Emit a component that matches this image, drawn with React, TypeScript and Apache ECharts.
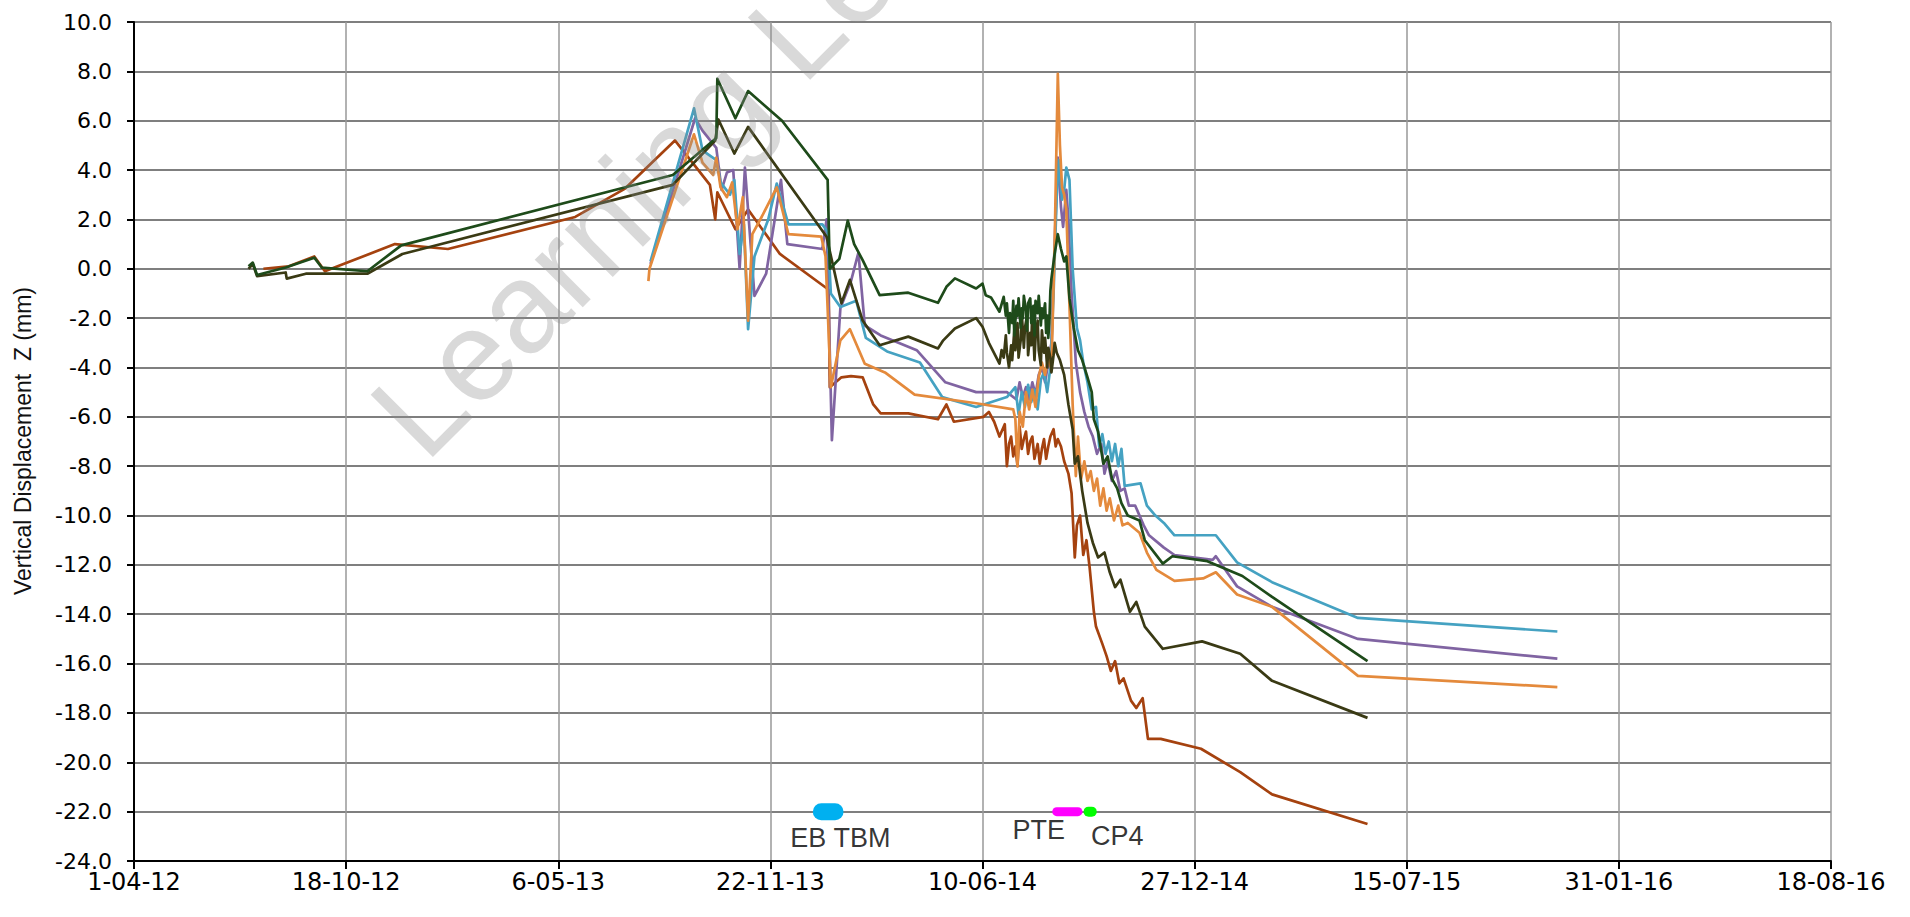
import React, { useEffect, useRef } from 'react';
import * as echarts from 'echarts';

type Pt = [string, number];

// ---- axis definition ----
const X_START = '2012-04-01';
const X_TICK_DAYS = 200;
const X_TICK_COUNT = 8;
const Y_MIN = -24;
const Y_MAX = 10;
const Y_STEP = 2;

const Y_TITLE = 'Vertical Displacement  Z (mm)';
const WATERMARK = 'Learning Legacy';

// ---- monitoring series ----
const seriesNames = ['Brown', 'Purple', 'Teal', 'Orange', 'Olive', 'Dark green'];
const seriesColors = ['#a5420f', '#8064a2', '#45a2c2', '#e48a3c', '#3a3a14', '#1e4b1a'];

const brown: Pt[] = [
  ['2012-08-01', 0.0], ['2012-08-25', 0.1], ['2012-09-18', 0.5], ['2012-09-28', -0.1], ['2012-10-10', 0.1],
  ['2012-12-03', 1.0], ['2013-01-22', 0.8], ['2013-05-22', 2.1], ['2013-07-08', 3.25], ['2013-08-24', 5.2],
  ['2013-09-26', 3.4], ['2013-10-01', 2.0], ['2013-10-03', 3.1], ['2013-10-20', 1.6], ['2013-11-01', 2.4],
  ['2013-12-01', 0.6], ['2014-01-16', -0.85], ['2014-01-17', -4.8], ['2014-01-28', -4.4], ['2014-02-06', -4.35],
  ['2014-02-17', -4.4], ['2014-02-27', -5.5], ['2014-03-06', -5.86], ['2014-04-01', -5.86], ['2014-04-29', -6.1],
  ['2014-05-07', -5.5], ['2014-05-14', -6.2], ['2014-06-11', -6.0], ['2014-06-16', -5.8], ['2014-06-21', -6.2],
  ['2014-06-26', -6.8], ['2014-07-01', -6.3], ['2014-07-03', -8.0], ['2014-07-05', -7.1], ['2014-07-07', -6.8],
  ['2014-07-09', -7.6], ['2014-07-11', -7.2], ['2014-07-13', -8.0], ['2014-07-15', -6.4], ['2014-07-17', -7.3],
  ['2014-07-19', -6.9], ['2014-07-21', -6.6], ['2014-07-23', -7.5], ['2014-07-25', -7.0], ['2014-07-27', -6.8],
  ['2014-07-29', -7.7], ['2014-08-01', -7.1], ['2014-08-03', -7.9], ['2014-08-05', -7.3], ['2014-08-07', -6.9],
  ['2014-08-09', -7.7], ['2014-08-11', -7.2], ['2014-08-13', -6.8], ['2014-08-16', -6.5], ['2014-08-18', -7.2],
  ['2014-08-20', -6.9], ['2014-08-23', -7.2], ['2014-08-26', -7.8], ['2014-08-30', -8.3], ['2014-09-02', -9.1],
  ['2014-09-05', -11.7], ['2014-09-07', -10.4], ['2014-09-10', -10.0], ['2014-09-13', -11.6], ['2014-09-16', -11.0],
  ['2014-09-19', -12.1], ['2014-09-23', -13.9], ['2014-09-25', -14.5], ['2014-10-01', -15.2], ['2014-10-05', -15.7],
  ['2014-10-09', -16.3], ['2014-10-13', -15.9], ['2014-10-17', -16.8], ['2014-10-21', -16.6], ['2014-10-28', -17.5],
  ['2014-11-02', -17.8], ['2014-11-08', -17.4], ['2014-11-13', -19.05], ['2014-11-25', -19.05], ['2015-01-02', -19.45],
  ['2015-02-08', -20.4], ['2015-03-10', -21.3], ['2015-06-08', -22.5],
];

const purple: Pt[] = [
  ['2013-08-01', 0.2], ['2013-09-12', 6.1], ['2013-09-19', 5.6], ['2013-10-02', 4.9], ['2013-10-07', 3.2],
  ['2013-10-12', 3.9], ['2013-10-18', 4.0], ['2013-10-24', 0.0], ['2013-10-29', 4.1], ['2013-11-07', -1.1],
  ['2013-11-18', -0.2], ['2013-12-02', 3.6], ['2013-12-08', 1.0], ['2014-01-10', 0.8], ['2014-01-14', 2.0],
  ['2014-01-19', -6.95], ['2014-01-27', -1.6], ['2014-02-06', -0.5], ['2014-02-13', 0.65], ['2014-02-19', -2.3],
  ['2014-03-06', -2.7], ['2014-04-09', -3.3], ['2014-05-06', -4.6], ['2014-06-04', -5.0], ['2014-07-03', -5.0],
  ['2014-07-12', -5.3], ['2014-07-15', -4.6], ['2014-07-18', -5.2], ['2014-07-21', -4.8], ['2014-07-24', -5.3],
  ['2014-07-27', -4.6], ['2014-07-30', -5.1], ['2014-08-02', -4.3], ['2014-08-05', -4.0], ['2014-08-08', -4.6],
  ['2014-08-11', -3.8], ['2014-08-14', -3.0], ['2014-08-17', 1.0], ['2014-08-20', 4.5], ['2014-08-23', 2.5],
  ['2014-08-25', 1.7], ['2014-08-28', 3.2], ['2014-08-30', 2.0], ['2014-09-02', -1.0], ['2014-09-06', -3.8],
  ['2014-09-10', -5.0], ['2014-09-14', -5.8], ['2014-09-18', -6.4], ['2014-09-22', -6.8], ['2014-09-26', -7.5],
  ['2014-09-30', -7.1], ['2014-10-03', -8.3], ['2014-10-06', -7.8], ['2014-10-10', -8.6], ['2014-10-14', -8.2],
  ['2014-10-18', -9.0], ['2014-10-22', -8.9], ['2014-10-26', -9.6], ['2014-11-01', -9.6], ['2014-11-09', -10.4],
  ['2014-11-14', -10.8], ['2014-11-28', -11.3], ['2014-12-08', -11.6], ['2015-01-13', -11.8], ['2015-01-16', -11.65],
  ['2015-02-05', -12.87], ['2015-03-10', -13.7], ['2015-05-30', -15.0], ['2015-12-04', -15.8],
];

const teal: Pt[] = [
  ['2013-08-01', 0.3], ['2013-09-11', 6.5], ['2013-09-19', 4.8], ['2013-10-02', 4.4], ['2013-10-06', 3.5],
  ['2013-10-15', 3.0], ['2013-10-19', 3.6], ['2013-10-24', 0.6], ['2013-10-28', 1.8], ['2013-11-01', -2.45],
  ['2013-11-07', 0.5], ['2013-11-20', 2.0], ['2013-11-28', 3.45], ['2013-12-09', 1.8], ['2014-01-10', 1.8],
  ['2014-01-15', 1.5], ['2014-01-18', -1.0], ['2014-01-27', -1.55], ['2014-02-11', -1.3], ['2014-02-20', -2.8],
  ['2014-03-12', -3.35], ['2014-04-12', -3.8], ['2014-05-03', -5.2], ['2014-06-04', -5.6], ['2014-07-03', -5.2],
  ['2014-07-11', -4.8], ['2014-07-14', -5.9], ['2014-07-17', -5.0], ['2014-07-20', -5.6], ['2014-07-23', -4.7],
  ['2014-07-26', -5.4], ['2014-07-29', -4.9], ['2014-08-01', -5.7], ['2014-08-04', -4.5], ['2014-08-07', -4.2],
  ['2014-08-10', -5.0], ['2014-08-13', -4.0], ['2014-08-16', -1.0], ['2014-08-19', 3.0], ['2014-08-21', 4.4],
  ['2014-08-24', 2.8], ['2014-08-26', 3.2], ['2014-08-28', 4.1], ['2014-08-31', 3.6], ['2014-09-03', 0.0],
  ['2014-09-07', -2.4], ['2014-09-10', -2.9], ['2014-09-13', -3.8], ['2014-09-17', -4.6], ['2014-09-21', -5.7],
  ['2014-09-25', -5.6], ['2014-09-28', -7.2], ['2014-10-01', -6.7], ['2014-10-04', -7.5], ['2014-10-07', -7.0],
  ['2014-10-10', -7.8], ['2014-10-13', -7.1], ['2014-10-16', -8.0], ['2014-10-19', -7.3], ['2014-10-22', -8.8],
  ['2014-11-06', -8.7], ['2014-11-12', -9.6], ['2014-11-20', -10.0], ['2014-11-28', -10.3], ['2014-12-08', -10.8],
  ['2015-01-16', -10.8], ['2015-02-05', -11.9], ['2015-03-10', -12.7], ['2015-05-30', -14.15], ['2015-12-04', -14.7],
];

const orange: Pt[] = [
  ['2013-07-30', -0.5], ['2013-07-31', 0.0], ['2013-09-11', 5.45], ['2013-09-19', 4.3], ['2013-09-29', 3.8],
  ['2013-10-02', 4.5], ['2013-10-06', 3.3], ['2013-10-12', 2.9], ['2013-10-17', 3.5], ['2013-10-22', 1.6],
  ['2013-10-27', 2.9], ['2013-11-01', -2.1], ['2013-11-05', 1.4], ['2013-11-15', 2.2], ['2013-11-28', 3.3],
  ['2013-12-09', 1.4], ['2014-01-09', 1.3], ['2014-01-13', 0.5], ['2014-01-18', -4.8], ['2014-01-27', -2.9],
  ['2014-02-05', -2.45], ['2014-02-19', -3.85], ['2014-03-10', -4.2], ['2014-04-07', -5.1], ['2014-06-04', -5.45],
  ['2014-07-09', -5.7], ['2014-07-11', -6.1], ['2014-07-13', -8.0], ['2014-07-15', -5.8], ['2014-07-18', -6.4],
  ['2014-07-21', -5.0], ['2014-07-24', -5.7], ['2014-07-27', -4.9], ['2014-07-30', -5.6], ['2014-08-02', -4.4],
  ['2014-08-05', -3.8], ['2014-08-08', -4.3], ['2014-08-11', -3.6], ['2014-08-14', -4.1], ['2014-08-17', 1.0],
  ['2014-08-20', 7.9], ['2014-08-22', 5.0], ['2014-08-24', 3.3], ['2014-08-26', 3.0], ['2014-08-28', 2.4],
  ['2014-08-31', -1.5], ['2014-09-03', -5.5], ['2014-09-06', -8.4], ['2014-09-08', -6.8], ['2014-09-11', -8.5],
  ['2014-09-14', -7.8], ['2014-09-17', -8.6], ['2014-09-20', -8.2], ['2014-09-23', -9.0], ['2014-09-26', -8.5],
  ['2014-09-29', -9.6], ['2014-10-02', -8.9], ['2014-10-05', -9.8], ['2014-10-08', -9.3], ['2014-10-12', -10.2],
  ['2014-10-16', -9.6], ['2014-10-20', -10.4], ['2014-10-25', -10.3], ['2014-11-05', -10.7], ['2014-11-12', -11.5],
  ['2014-11-21', -12.2], ['2014-12-08', -12.65], ['2015-01-04', -12.55], ['2015-01-16', -12.3], ['2015-02-05', -13.2],
  ['2015-03-10', -13.7], ['2015-05-30', -16.5], ['2015-12-04', -16.95],
];

const olive: Pt[] = [
  ['2012-07-18', 0.0], ['2012-07-22', 0.2], ['2012-07-26', -0.3], ['2012-08-22', -0.15], ['2012-08-23', -0.4],
  ['2012-09-10', -0.2], ['2012-11-07', -0.2], ['2012-12-10', 0.6], ['2013-08-22', 3.4], ['2013-10-01', 5.2],
  ['2013-10-04', 6.05], ['2013-10-19', 4.67], ['2013-11-01', 5.75], ['2014-01-14', 1.3], ['2014-01-28', -1.4],
  ['2014-02-05', -0.45], ['2014-02-17', -2.1], ['2014-03-05', -3.1], ['2014-04-01', -2.75], ['2014-04-29', -3.23],
  ['2014-05-04', -2.9], ['2014-05-15', -2.42], ['2014-06-04', -2.0], ['2014-06-10', -2.35], ['2014-06-16', -3.0],
  ['2014-06-26', -3.84], ['2014-06-28', -3.3], ['2014-06-30', -3.6], ['2014-07-02', -2.7], ['2014-07-03', -3.4],
  ['2014-07-05', -4.0], ['2014-07-07', -3.1], ['2014-07-08', -3.7], ['2014-07-10', -2.5], ['2014-07-11', -3.3],
  ['2014-07-13', -2.2], ['2014-07-14', -3.6], ['2014-07-16', -2.9], ['2014-07-17', -1.8], ['2014-07-19', -3.2],
  ['2014-07-20', -2.4], ['2014-07-22', -1.9], ['2014-07-23', -3.5], ['2014-07-25', -2.6], ['2014-07-26', -3.1],
  ['2014-07-27', -1.6], ['2014-07-29', -3.7], ['2014-07-30', -2.8], ['2014-08-01', -2.1], ['2014-08-02', -3.3],
  ['2014-08-04', -3.9], ['2014-08-05', -2.5], ['2014-08-07', -3.4], ['2014-08-08', -2.8], ['2014-08-10', -4.0],
  ['2014-08-11', -3.2], ['2014-08-13', -3.6], ['2014-08-14', -4.2], ['2014-08-16', -3.5], ['2014-08-17', -3.0],
  ['2014-08-19', -3.4], ['2014-08-22', -3.7], ['2014-08-26', -4.3], ['2014-08-30', -5.5], ['2014-09-03', -6.5],
  ['2014-09-05', -7.9], ['2014-09-08', -7.6], ['2014-09-12', -9.0], ['2014-09-17', -10.3], ['2014-09-22', -11.1],
  ['2014-09-27', -11.7], ['2014-10-03', -11.5], ['2014-10-08', -12.3], ['2014-10-13', -12.9], ['2014-10-18', -12.6],
  ['2014-10-27', -13.9], ['2014-11-02', -13.5], ['2014-11-10', -14.5], ['2014-11-27', -15.4], ['2015-01-03', -15.1],
  ['2015-02-08', -15.6], ['2015-03-10', -16.7], ['2015-06-08', -18.2],
];

const darkGreen: Pt[] = [
  ['2012-07-18', 0.1], ['2012-07-22', 0.25], ['2012-07-26', -0.25], ['2012-08-22', 0.05], ['2012-09-18', 0.45],
  ['2012-09-25', 0.05], ['2012-11-07', -0.1], ['2012-12-09', 0.95], ['2013-08-22', 3.8], ['2013-10-02', 5.3],
  ['2013-10-03', 7.7], ['2013-10-20', 6.1], ['2013-11-01', 7.2], ['2013-12-03', 6.0], ['2014-01-15', 3.6],
  ['2014-01-17', 0.0], ['2014-01-26', 0.4], ['2014-02-03', 1.95], ['2014-02-09', 1.0], ['2014-02-17', 0.35],
  ['2014-03-05', -1.07], ['2014-04-01', -0.97], ['2014-04-29', -1.38], ['2014-05-07', -0.73], ['2014-05-15', -0.39],
  ['2014-06-04', -0.8], ['2014-06-10', -0.6], ['2014-06-13', -1.07], ['2014-06-18', -1.16], ['2014-06-26', -1.74],
  ['2014-06-30', -1.14], ['2014-07-02', -1.9], ['2014-07-03', -1.4], ['2014-07-05', -2.6], ['2014-07-06', -1.8],
  ['2014-07-08', -2.2], ['2014-07-09', -1.3], ['2014-07-10', -2.7], ['2014-07-12', -1.5], ['2014-07-13', -1.9],
  ['2014-07-14', -1.2], ['2014-07-16', -2.4], ['2014-07-17', -1.6], ['2014-07-18', -2.0], ['2014-07-19', -1.1],
  ['2014-07-21', -1.7], ['2014-07-22', -2.5], ['2014-07-23', -1.4], ['2014-07-25', -1.2], ['2014-07-26', -2.2],
  ['2014-07-28', -1.5], ['2014-07-29', -2.7], ['2014-07-30', -1.3], ['2014-08-01', -1.8], ['2014-08-02', -1.1],
  ['2014-08-04', -2.3], ['2014-08-05', -1.6], ['2014-08-06', -2.0], ['2014-08-08', -1.4], ['2014-08-09', -2.6],
  ['2014-08-10', -1.9], ['2014-08-11', -2.8], ['2014-08-12', -2.2], ['2014-08-13', -0.9], ['2014-08-14', -0.4],
  ['2014-08-17', 0.6], ['2014-08-20', 1.4], ['2014-08-23', 0.8], ['2014-08-26', 0.3], ['2014-08-28', 0.5],
  ['2014-08-31', -1.2], ['2014-09-04', -2.4], ['2014-09-08', -3.3], ['2014-09-12', -3.7], ['2014-09-17', -4.4],
  ['2014-09-21', -5.0], ['2014-09-23', -6.1], ['2014-09-27', -6.6], ['2014-10-02', -7.9], ['2014-10-06', -7.6],
  ['2014-10-10', -8.5], ['2014-10-15', -8.9], ['2014-10-19', -9.5], ['2014-10-25', -10.0], ['2014-11-05', -10.2],
  ['2014-11-10', -11.0], ['2014-11-27', -11.95], ['2014-12-06', -11.65], ['2015-01-08', -11.85], ['2015-02-10', -12.45],
  ['2015-03-10', -13.3], ['2015-06-08', -15.9],
];

const allSeries: Pt[][] = [brown, purple, teal, orange, olive, darkGreen];

// ---- construction activity bars (at -22 mm) ----
const activityNames = ['EB TBM', 'PTE', 'CP4'];
const activityColors = ['#00b0f0', '#ff00ff', '#00ff00'];
const ebTbm: Pt[] = [['2014-01-09', -22], ['2014-01-22', -22]];
const pte: Pt[] = [['2014-08-19', -22], ['2014-09-08', -22]];
const cp4: Pt[] = [['2014-09-18', -22], ['2014-09-21', -22]];
const activityBars: Pt[][] = [ebTbm, pte, cp4];
const activityLabels: Pt[] = [['2014-01-27', -23.05], ['2014-08-02', -22.75], ['2014-10-15', -23.0]];

// ---- helpers ----
const BASE = (() => {
  const [y, m, d] = X_START.split('-').map(Number);
  return Date.UTC(y, m - 1, d);
})();
const DAY = 86400000;
const toDay = (s: string) => {
  const [y, m, d] = s.split('-').map(Number);
  return (Date.UTC(y, m - 1, d) - BASE) / DAY;
};
const fmtDay = (v: number) => {
  const dt = new Date(BASE + Math.round(v) * DAY);
  return `${dt.getUTCDate()}-${String(dt.getUTCMonth() + 1).padStart(2, '0')}-${String(dt.getUTCFullYear()).slice(2)}`;
};
const conv = (pts: Pt[]) => pts.map(([d, v]) => [toDay(d), v]);

const TICK_FONT = '"DejaVu Sans", Verdana, sans-serif';
const ARIAL = '"Liberation Sans", Arial, sans-serif';

export default function App() {
  const ref = useRef<HTMLDivElement>(null);

  useEffect(() => {
    if (!ref.current) return;
    const chart = echarts.init(ref.current, undefined, { renderer: 'svg' });

    const lineSeries = allSeries.map((pts, i) => ({
      name: seriesNames[i],
      type: 'line',
      data: conv(pts),
      symbol: 'none',
      lineStyle: { color: seriesColors[i], width: 2.7, join: 'round' },
      z: 3 + i,
    }));

    const barSeries = activityBars.map((pts, i) => ({
      name: activityNames[i],
      type: 'line',
      data: conv(pts),
      symbol: 'none',
      lineStyle: { color: activityColors[i], width: i === 0 ? 17 : i === 1 ? 9 : 10, cap: 'round' },
      z: 20 + i,
    }));

    const labelSeries = {
      name: 'labels',
      type: 'scatter',
      symbolSize: 1,
      itemStyle: { color: 'rgba(0,0,0,0)' },
      data: activityLabels.map(([d, v], i) => ({ value: [toDay(d), v], name: activityNames[i] })),
      label: {
        show: true,
        position: 'inside',
        formatter: (p: any) => p.name,
        fontFamily: ARIAL,
        fontSize: 27,
        color: '#000',
      },
      z: 30,
    };

    chart.setOption({
      animation: false,
      backgroundColor: '#ffffff',
      grid: { left: 134, right: 79, top: 22, bottom: 56, containLabel: false },
      xAxis: {
        type: 'value',
        min: 0,
        max: X_TICK_DAYS * X_TICK_COUNT,
        interval: X_TICK_DAYS,
        axisLine: { show: true, onZero: false, lineStyle: { color: '#000', width: 2 } },
        axisTick: { show: true, length: 8, lineStyle: { color: '#000', width: 2 } },
        axisLabel: { formatter: fmtDay, fontFamily: TICK_FONT, fontSize: 24, color: '#000', margin: 9 },
        splitLine: { show: true, lineStyle: { color: '#999999', width: 1.5 } },
      },
      yAxis: {
        type: 'value',
        min: Y_MIN,
        max: Y_MAX,
        interval: Y_STEP,
        axisLine: { show: true, onZero: false, lineStyle: { color: '#000', width: 2 } },
        axisTick: { show: true, length: 7, lineStyle: { color: '#000', width: 2 } },
        axisLabel: { formatter: (v: number) => v.toFixed(1), fontFamily: TICK_FONT, fontSize: 22, color: '#000', margin: 22 },
        splitLine: { show: true, lineStyle: { color: '#7f7f7f', width: 2 } },
      },
      series: [...lineSeries, ...barSeries, labelSeries],
      graphic: [
        {
          type: 'text',
          x: 23,
          y: 441,
          rotation: Math.PI / 2,
          silent: true,
          style: { text: Y_TITLE, font: `23px ${ARIAL}`, fill: '#111', align: 'center', verticalAlign: 'middle' },
        },
        {
          type: 'text',
          x: 394,
          y: 433,
          rotation: Math.PI / 4,
          silent: true,
          z: 100,
          style: { text: WATERMARK, font: `128px ${ARIAL}`, fill: 'rgba(140,140,140,0.33)', align: 'left', verticalAlign: 'middle' },
        },
      ],
    });

    return () => chart.dispose();
  }, []);

  return <div ref={ref} style={{ position: 'fixed', left: 0, top: 0, width: 1910, height: 917 }} />;
}
